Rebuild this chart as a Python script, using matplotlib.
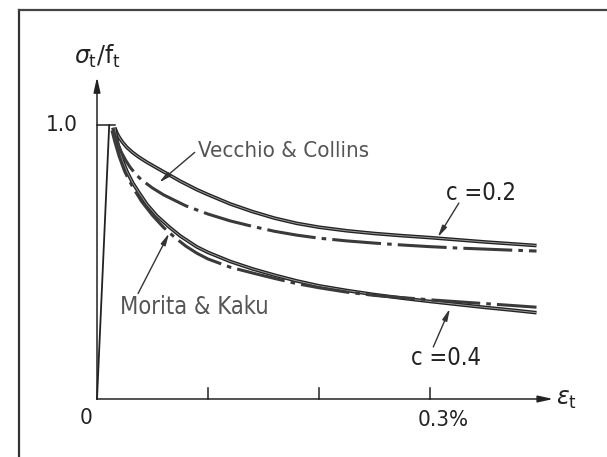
import matplotlib
matplotlib.use("Agg")
import matplotlib.pyplot as plt
from matplotlib.lines import Line2D

####  DATA  (strain in %, stress ratio sigma_t / f_t)
rise_eps = [0.0, 0.011]
rise_sig = [0.0, 1.0]

c02_eps = [0.016, 0.018, 0.020, 0.023, 0.027, 0.032, 0.038, 0.045, 0.054, 0.065, 0.075,
           0.090, 0.100, 0.120, 0.140, 0.160, 0.180, 0.200, 0.225, 0.250, 0.275,
           0.300, 0.325, 0.350, 0.375, 0.396]
c02_sig = [0.99, 0.97, 0.955, 0.937, 0.918, 0.90, 0.882, 0.864, 0.843, 0.818, 0.795,
           0.764, 0.746, 0.712, 0.684, 0.66, 0.641, 0.627, 0.614, 0.604, 0.596,
           0.589, 0.581, 0.573, 0.566, 0.56]

vc_eps = [0.014, 0.018, 0.022, 0.026, 0.030, 0.035, 0.040, 0.050, 0.060, 0.070, 0.080,
          0.090, 0.100, 0.120, 0.140, 0.160, 0.180, 0.200, 0.225, 0.250, 0.275,
          0.300, 0.325, 0.350, 0.375, 0.396]
vc_sig = [0.99, 0.94, 0.90, 0.87, 0.845, 0.82, 0.80, 0.77, 0.745, 0.725, 0.705,
          0.69, 0.675, 0.65, 0.63, 0.612, 0.598, 0.587, 0.577, 0.569, 0.562,
          0.556, 0.551, 0.547, 0.543, 0.54]

c04_eps = [0.016, 0.018, 0.020, 0.023, 0.027, 0.032, 0.038, 0.045, 0.054, 0.065, 0.075,
           0.090, 0.100, 0.120, 0.140, 0.160, 0.180, 0.200, 0.225, 0.250, 0.275,
           0.300, 0.325, 0.350, 0.375, 0.396]
c04_sig = [0.99, 0.945, 0.91, 0.87, 0.83, 0.79, 0.752, 0.71, 0.668, 0.628, 0.595,
           0.555, 0.535, 0.502, 0.475, 0.452, 0.431, 0.413, 0.396, 0.381, 0.368,
           0.356, 0.345, 0.334, 0.324, 0.315]

mk_eps = [0.0135, 0.016, 0.020, 0.025, 0.030, 0.035, 0.040, 0.050, 0.060, 0.070, 0.080,
          0.090, 0.100, 0.120, 0.140, 0.160, 0.180, 0.200, 0.225, 0.250, 0.275,
          0.300, 0.325, 0.350, 0.375, 0.396]
mk_sig = [0.98, 0.94, 0.885, 0.83, 0.79, 0.755, 0.722, 0.67, 0.626, 0.59, 0.558,
          0.532, 0.511, 0.481, 0.46, 0.44, 0.421, 0.406, 0.39, 0.378, 0.37,
          0.362, 0.355, 0.348, 0.341, 0.335]

x_ticks = [0.1, 0.2, 0.3]

NARROW = dict(family="DejaVu Sans", fontstretch="condensed")
plt.rcParams["mathtext.fontset"] = "dejavusans"

####  FIGURE
fig = plt.figure(figsize=(6.07, 4.57), dpi=100)
ax = fig.add_axes([0, 0, 1, 1])
ax.set_xlim(-0.0874, 0.4595)
ax.set_ylim(-0.2117, 1.4562)
ax.axis("off")

##  frame of the scanned figure (left and top only)
fig.add_artist(Line2D([0.031, 0.031], [0.0, 0.978], transform=fig.transFigure,
                      color="#333333", lw=1.6))
fig.add_artist(Line2D([0.031, 1.0], [0.978, 0.978], transform=fig.transFigure,
                      color="#444444", lw=1.6))

##  axes with arrows
ax.annotate("", xy=(0.411, 0), xytext=(0, 0),
            arrowprops=dict(arrowstyle="-|>,head_length=0.9,head_width=0.2",
                            color="#222222", lw=1.1, shrinkA=0, shrinkB=0))
ax.annotate("", xy=(0, 1.175), xytext=(0, 0),
            arrowprops=dict(arrowstyle="-|>,head_length=0.9,head_width=0.2",
                            color="#222222", lw=1.1, shrinkA=0, shrinkB=0))
for t in x_ticks:
    ax.plot([t, t], [0, 0.04], color="#222222", lw=1.1)
ax.plot([0, 0.016], [1.0, 1.0], color="#222222", lw=1.1)

##  curves
ax.plot(rise_eps, rise_sig, color="#222222", lw=1.3)
for xs, ys in [(c02_eps, c02_sig), (c04_eps, c04_sig)]:
    ax.plot(xs, ys, color="#222222", lw=2.6, solid_capstyle="butt",
            solid_joinstyle="round")
    ax.plot(xs, ys, color="#9a9a9a", lw=0.7)
for xs, ys in [(vc_eps, vc_sig), (mk_eps, mk_sig)]:
    ax.plot(xs, ys, color="#3a3a3a", lw=2.2, linestyle=(0, (16, 2, 1.5, 2)),
            dash_capstyle="butt")

##  texts
ax.text(0.0, 1.25, r"$\sigma_\mathrm{t}/\mathrm{f}_\mathrm{t}$", fontsize=17,
        ha="center", va="center", color="#222222")
ax.text(-0.017, 1.0, "1.0", fontsize=16, ha="right", va="center",
        color="#222222", **NARROW)
ax.text(-0.010, -0.07, "0", fontsize=16, ha="center", va="center",
        color="#222222", **NARROW)
ax.text(0.312, -0.075, "0.3%", fontsize=16, ha="center", va="center",
        color="#222222", **NARROW)
ax.text(0.414, 0.0, r"$\varepsilon_\mathrm{t}$", fontsize=17, ha="left",
        va="center", color="#222222")

ax.text(0.091, 0.905, "Vecchio & Collins", fontsize=16, ha="left", va="center",
        color="#555555", **NARROW)
ax.text(0.021, 0.335, "Morita & Kaku", fontsize=17, ha="left", va="center",
        color="#555555", **NARROW)
ax.text(0.314, 0.75, "c =0.2", fontsize=17, ha="left", va="center",
        color="#222222", **NARROW)
ax.text(0.283, 0.15, "c =0.4", fontsize=17, ha="left", va="center",
        color="#222222", **NARROW)

##  leader arrows
leader = dict(arrowstyle="-|>,head_length=0.7,head_width=0.15",
              color="#333333", lw=1.0, shrinkA=0, shrinkB=0)
ax.annotate("", xy=(0.056, 0.79), xytext=(0.088, 0.9), arrowprops=leader)
ax.annotate("", xy=(0.065, 0.605), xytext=(0.037, 0.385), arrowprops=leader)
ax.annotate("", xy=(0.307, 0.59), xytext=(0.326, 0.715), arrowprops=leader)
ax.annotate("", xy=(0.318, 0.33), xytext=(0.303, 0.19), arrowprops=leader)

fig.savefig("out.png", dpi=100, facecolor="white")
